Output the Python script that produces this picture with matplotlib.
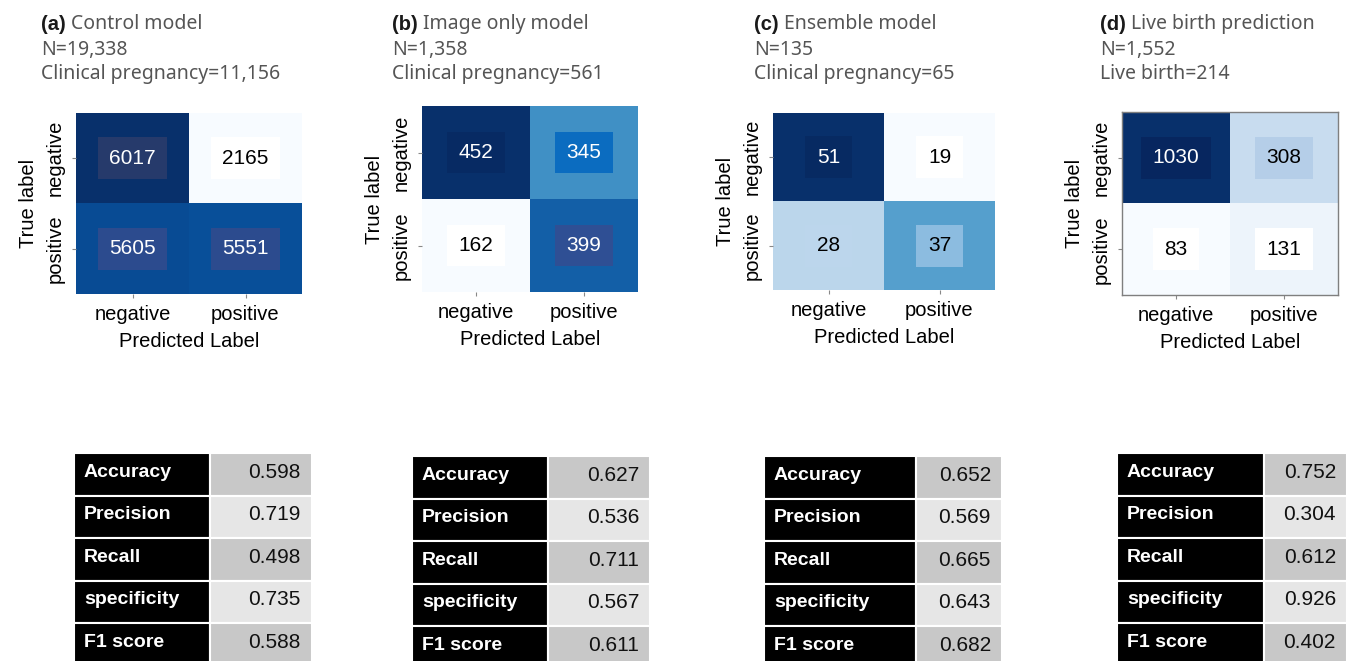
"""Confusion matrices and metric tables for four embryo models"""
import matplotlib
matplotlib.use('Agg')
import matplotlib.pyplot as plt
import numpy as np
from matplotlib.patches import Rectangle

W, H = 1351, 661

panel_tags = ['(a)', '(b)', '(c)', '(d)']
titles = ['Control model', 'Image only model', 'Ensemble model', 'Live birth prediction']
n_totals = ['19,338', '1,358', '135', '1,552']
outcome_names = ['Clinical pregnancy', 'Clinical pregnancy', 'Clinical pregnancy', 'Live birth']
outcome_counts = ['11,156', '561', '65', '214']

class_labels = ['negative', 'positive']
cm_a = [[6017, 2165], [5605, 5551]]
cm_b = [[452, 345], [162, 399]]
cm_c = [[51, 19], [28, 37]]
cm_d = [[1030, 308], [83, 131]]

metric_names = ['Accuracy', 'Precision', 'Recall', 'specificity', 'F1 score']
metrics_a = [0.598, 0.719, 0.498, 0.735, 0.588]
metrics_b = [0.627, 0.536, 0.711, 0.567, 0.611]
metrics_c = [0.652, 0.569, 0.665, 0.643, 0.682]
metrics_d = [0.752, 0.304, 0.612, 0.926, 0.402]

# layout in pixels (left, right, top, bottom)
heat_boxes = [(76, 302, 113, 294), (422, 638, 106, 292),
              (773, 995, 113, 290), (1122, 1338, 112, 295)]
table_boxes = [(74, 210, 312, 453), (412, 548, 650, 456),
               (764, 916, 1002, 456), (1117, 1264, 1347, 453)]
title_x = [41, 392, 754, 1100]
row_h = 42.5

# shaded boxes behind the annotations (artefact of the original figure)
box_colors = [
    [['#263a6b', '#ffffff'], ['#2c4b8e', '#2c4b8e']],
    [['#072a63', '#0b6cc0'], ['#ffffff', '#2f4f94']],
    [['#072a62', '#ffffff'], ['#bcd6ec', '#8cbce0']],
    [['#07265f', '#b5cee8'], ['#ffffff', '#ffffff']],
]

plt.rcParams['font.family'] = ['Liberation Sans', 'DejaVu Sans']
TITLE_FONT = ['Noto Sans', 'DejaVu Sans']
TITLE_GRAY = '#555555'
TITLE_SIZE = 14

fig = plt.figure(figsize=(W / 100, H / 100), dpi=100)


def px_axes(l, r, t, b):
    return fig.add_axes([l / W, 1 - b / H, (r - l) / W, (b - t) / H])


def draw_heatmap(ax, cm, boxes, framed):
    cm = np.array(cm)
    lo, hi = cm.min(), cm.max()
    ax.imshow(cm, cmap='Blues', vmin=lo, vmax=hi, aspect='auto',
              interpolation='nearest')
    for i in range(2):
        for j in range(2):
            frac = (cm[i, j] - lo) / (hi - lo)
            ax.text(j, i, str(cm[i, j]), ha='center', va='center', fontsize=15,
                    color='white' if frac > 0.6 else 'black',
                    bbox=dict(boxstyle='square,pad=0.55', fc=boxes[i][j], ec='none'))
    ax.set_xticks([0, 1])
    ax.set_yticks([0, 1])
    ax.set_xticklabels(class_labels, fontsize=14.5)
    ax.set_yticklabels(class_labels, fontsize=14.5, rotation=90, va='center')
    ax.tick_params(length=3, width=0.8, color='#888888', pad=5)
    ax.set_xlabel('Predicted Label', fontsize=14.5, labelpad=6)
    ax.set_ylabel('True label', fontsize=14.5, labelpad=6)
    for s in ax.spines.values():
        s.set_visible(framed)
        s.set_color('#7f7f7f')
        s.set_linewidth(1.0)


def draw_table(box, values):
    l, split, r, t = box
    n = len(values)
    ax = px_axes(l, r, t, t + n * row_h)
    ax.set_xlim(l, r)
    ax.set_ylim(n, 0)
    ax.axis('off')
    for k, (name, val) in enumerate(zip(metric_names, values)):
        shade = '#c8c8c8' if k % 2 == 0 else '#e6e6e6'
        ax.add_patch(Rectangle((l, k), split - l, 1, fc='black', ec='white', lw=1.5))
        ax.add_patch(Rectangle((split, k), r - split, 1, fc=shade, ec='white', lw=1.5))
        ax.text(l + 10, k + 0.45, name, color='white', fontsize=14,
                fontweight='bold', va='center', ha='left')
        ax.text(r - 11, k + 0.45, f'{val:.3f}', color='#111111', fontsize=15,
                va='center', ha='right')


cms = [cm_a, cm_b, cm_c, cm_d]
metrics = [metrics_a, metrics_b, metrics_c, metrics_d]

for p in range(4):
    ax = px_axes(*heat_boxes[p])
    draw_heatmap(ax, cms[p], box_colors[p], framed=(p == 3))
    draw_table(table_boxes[p], metrics[p])

    x0 = title_x[p] / W
    tag = fig.text(x0, 1 - 30 / H, panel_tags[p], fontsize=TITLE_SIZE + 0.5,
                   fontweight='bold', color='#1a1a1a',
                   family=['Liberation Sans', 'DejaVu Sans'], va='baseline')
    ax.annotate(' ' + titles[p], xy=(1, 0), xycoords=tag, fontsize=TITLE_SIZE,
                color=TITLE_GRAY, family=TITLE_FONT, va='bottom', ha='left',
                annotation_clip=False)
    fig.text(x0, 1 - 55 / H, f'N={n_totals[p]}', fontsize=TITLE_SIZE,
             color=TITLE_GRAY, family=TITLE_FONT, va='baseline')
    fig.text(x0, 1 - 79 / H, f'{outcome_names[p]}={outcome_counts[p]}',
             fontsize=TITLE_SIZE, color=TITLE_GRAY, family=TITLE_FONT, va='baseline')

fig.savefig('out.png', dpi=100)
plt.close(fig)
